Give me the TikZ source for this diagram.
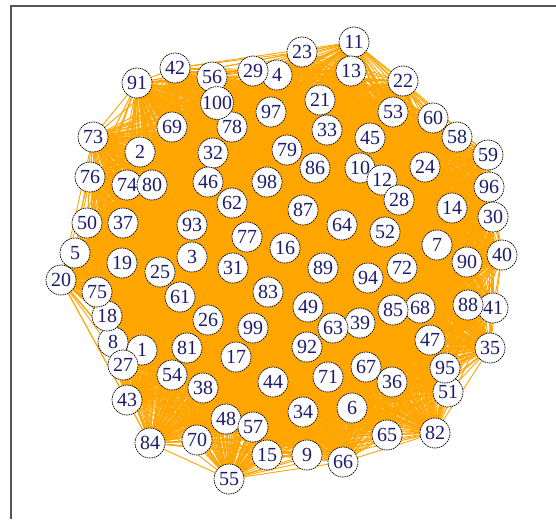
\documentclass[tikz,border=0pt]{standalone}
\usepackage{fontspec}
\setmainfont{Liberation Serif}
\usepackage{xcolor}
\definecolor{linkorange}{HTML}{FFA500}
\definecolor{numblue}{HTML}{1C1C6B}
\definecolor{framegray}{HTML}{555555}
\usepackage{tikz}
\usetikzlibrary{backgrounds}
\tikzset{
    vtx/.style = {circle, draw=black, dash pattern=on 1.6pt off 0.8pt,
                  line width=0.7pt, fill=white,
                  minimum size=30pt, inner sep=0pt, text=numblue,
                  font=\fontsize{20}{20}\selectfont},
    link/.style = {draw=linkorange, line width=0.9pt},
}

\begin{document}
\begin{tikzpicture}[x=1pt, y=-1pt]
        \useasboundingbox (0,0) rectangle (556,519);
        % frame
        \draw[framegray, line width=1.5pt] (11,519) -- (11,6) -- (556,6);
        % vertices
        \foreach \n/\x/\y in {1/142/350, 2/140/152, 3/192/257, 4/277/75, 5/75/253,
            6/352/408, 7/437/245, 8/113/342, 9/307/455, 10/360/168,
            11/354/42, 12/382/180, 13/351/71, 14/452/208, 15/267/455,
            16/285/248, 17/236/357, 18/107/316, 19/122/263, 20/61/280,
            21/320/100, 22/403/81, 23/302/52, 24/425/167, 25/160/272,
            26/208/320, 27/123/365, 28/399/200, 29/253/71, 30/493/217,
            31/233/268, 32/213/153, 33/327/130, 34/303/412, 35/490/348,
            36/392/382, 37/123/223, 38/203/388, 39/360/323, 40/502/255,
            41/493/308, 42/175/68, 43/127/400, 44/273/382, 45/370/138,
            46/208/182, 47/430/340, 48/226/419, 49/308/307, 50/87/223,
            51/448/392, 52/385/232, 53/393/112, 54/172/375, 55/229/479,
            56/212/77, 57/253/427, 58/457/137, 59/488/155, 60/433/118,
            61/180/297, 62/232/203, 63/333/328, 64/342/225, 65/387/435,
            66/343/462, 67/366/367, 68/420/308, 69/172/127, 70/197/440,
            71/328/377, 72/402/268, 73/93/137, 74/127/185, 75/97/292,
            76/90/177, 77/247/237, 78/232/127, 79/287/150, 80/152/185,
            81/187/348, 82/435/433, 83/268/292, 84/150/443, 85/393/310,
            86/315/168, 87/303/210, 88/468/305, 89/323/268, 90/467/262,
            91/137/83, 92/307/347, 93/192/225, 94/368/278, 95/445/368,
            96/489/187, 97/271/112, 98/267/182, 99/253/328, 100/217/103}
          \node[vtx] (n\n) at (\x,\y) {\n};
        % links
        \begin{scope}[on background layer]
          \foreach \i in {1,...,100}
            \foreach \j in {1,...,100}
              {\ifnum\i<\j \draw[link] (n\i.center) -- (n\j.center);\fi}
        \end{scope}
      \end{tikzpicture}
\end{document}
